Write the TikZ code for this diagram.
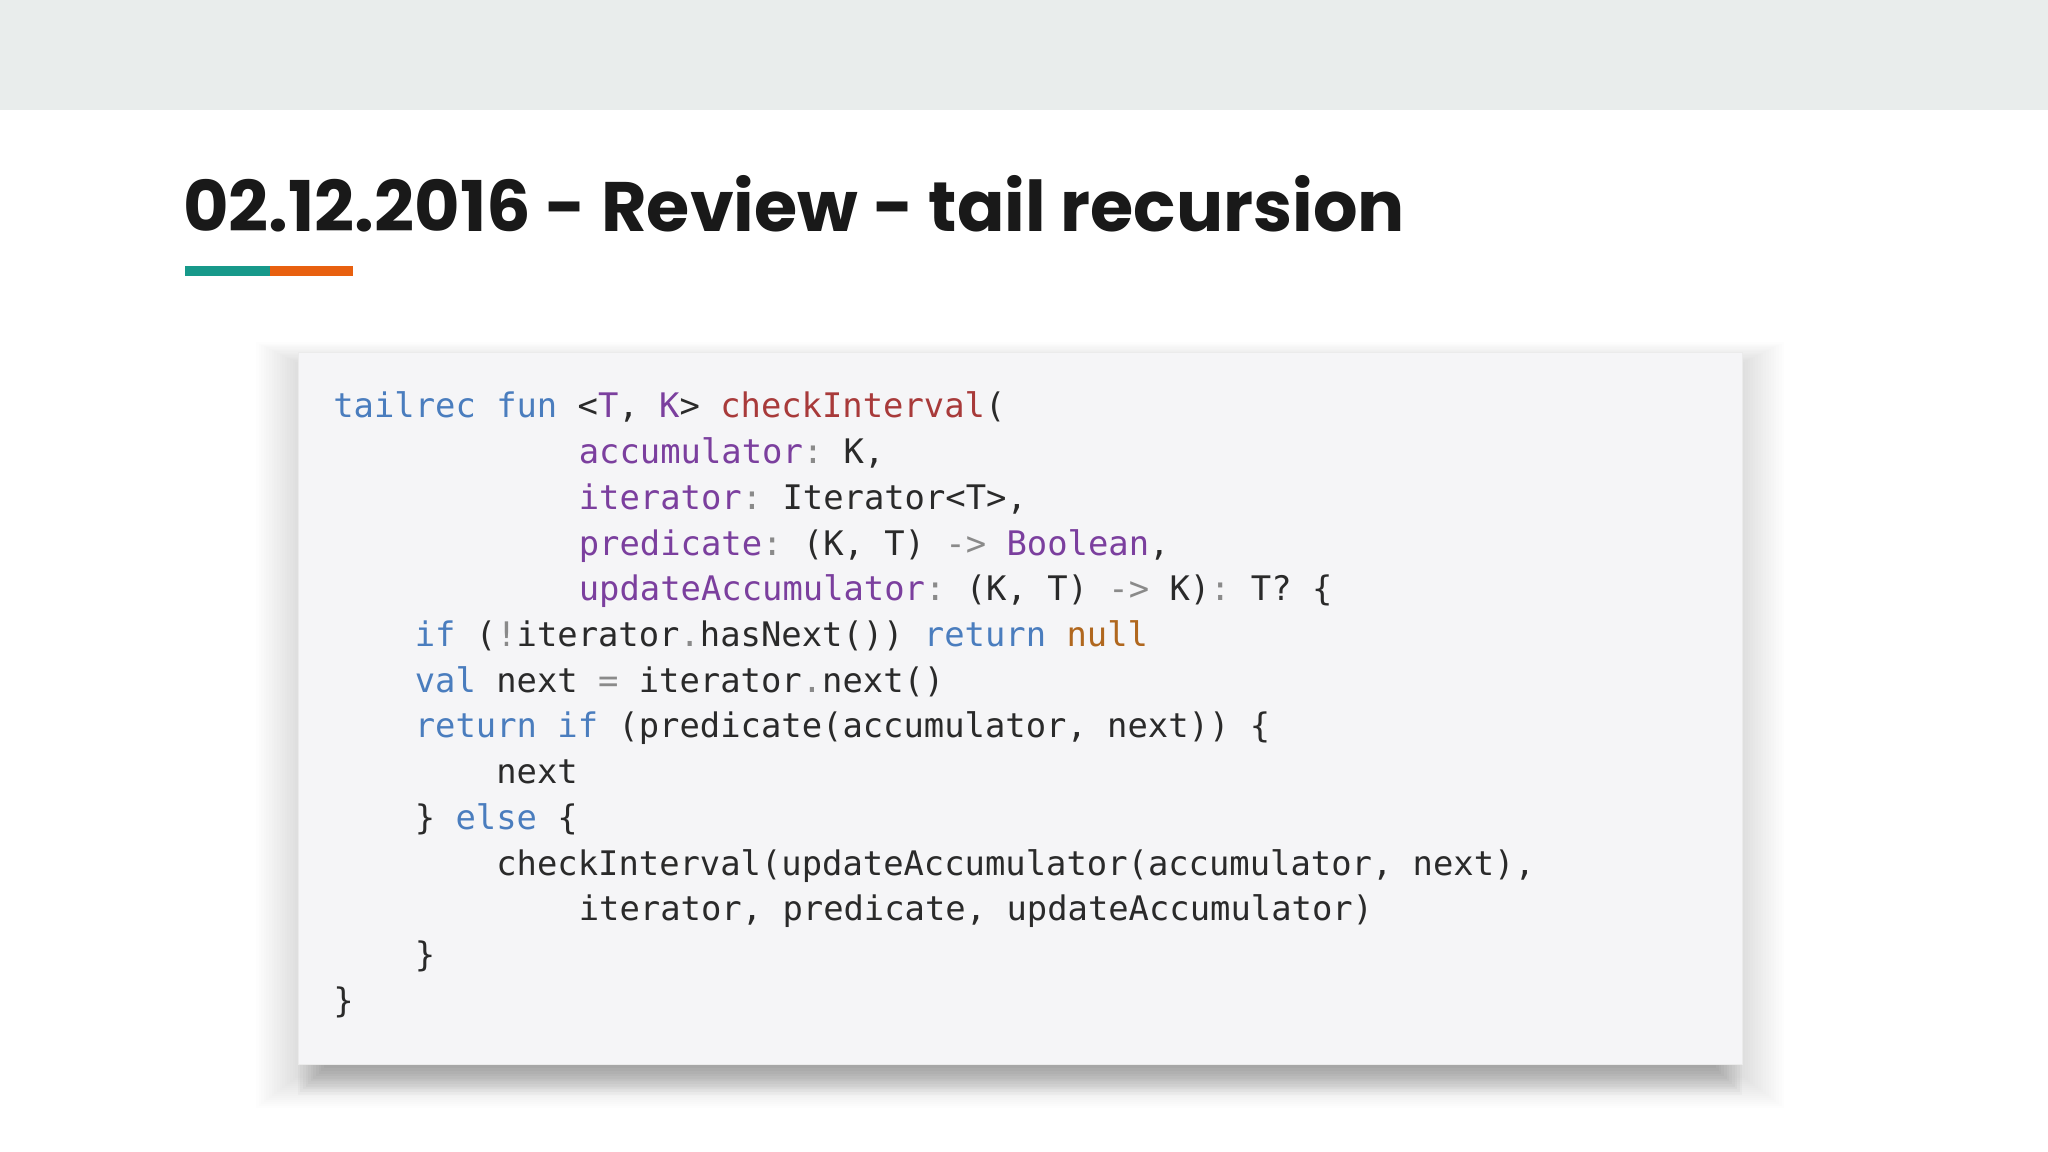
\documentclass[tikz,border=0pt]{standalone}
\usepackage{fontspec}
\setmainfont{Poppins}
\newfontfamily\codefont{DejaVu Sans Mono}
\definecolor{band}{HTML}{E9EDEC}
\definecolor{boxbg}{HTML}{F5F5F7}
\definecolor{kw}{HTML}{4A7DBE}
\definecolor{pu}{HTML}{7B3F9E}
\definecolor{fn}{HTML}{A83A3A}
\definecolor{nl}{HTML}{B0671E}
\definecolor{gy}{HTML}{8A8A8A}
\definecolor{tx}{HTML}{2A2A2A}
\definecolor{teal}{HTML}{17998A}
\definecolor{orng}{HTML}{E8600F}
\newcommand{\K}[1]{\textcolor{kw}{#1}}
\newcommand{\Pu}[1]{\textcolor{pu}{#1}}
\newcommand{\F}[1]{\textcolor{fn}{#1}}
\newcommand{\N}[1]{\textcolor{nl}{#1}}
\newcommand{\G}[1]{\textcolor{gy}{#1}}
\newcommand{\sP}{\hspace{0.602em}}
\begin{document}
\begin{tikzpicture}[x=1pt,y=-1pt,
  codeline/.style={anchor=base west,inner sep=0pt,font=\codefont\fontsize{25.9}{30}\selectfont,text=tx}]
\useasboundingbox (0,0) rectangle (1568,882);
\fill[white] (0,0) rectangle (1568,882);
\fill[band] (0,0) rectangle (1568,84);
\node[anchor=base west,inner sep=0pt,font=\bfseries\fontsize{53.6}{60}\selectfont,text=black!90] (title) at (140,177) {02.12.2016 - Review - tail recursion};
\fill[teal] (142,204) rectangle (207,211);
\fill[orng] (207,204) rectangle (270,211);
% shadow
\foreach \i in {0,...,15}{
  \fill[black,opacity=0.008] (196+2*\i,262+\i) rectangle (1366-2*\i,848-1.5*\i);
}
\foreach \i in {0,...,10}{
  \fill[black,opacity=0.025] (228+2*\i,330+3*\i) rectangle (1334-2*\i,838-2*\i);
}
\fill[boxbg,draw=black!8] (228,270) rectangle (1334,815);
\node[codeline] (l1) at (255,320) {\K{tailrec}\sP\K{fun}\sP<\Pu{T}, \Pu{K}>\sP\F{checkInterval}(};
\node[codeline] (l2) at (443,355) {\Pu{accumulator}\G{:}\sP K,};
\node[codeline] (l3) at (443,390) {\Pu{iterator}\G{:}\sP Iterator<T>,};
\node[codeline] (l4) at (443,425) {\Pu{predicate}\G{:}\sP(K,\sP T)\sP\G{->}\sP\Pu{Boolean},};
\node[codeline] (l5) at (443,460) {\Pu{updateAccumulator}\G{:}\sP(K,\sP T)\sP\G{->}\sP K)\G{:}\sP T?\sP\{};
\node[codeline] (l6) at (317.4,495) {\K{if}\sP(\G{!}iterator\G{.}hasNext())\sP\K{return}\sP\N{null}};
\node[codeline] (l7) at (317.4,530) {\K{val}\sP next\sP\G{=}\sP iterator\G{.}next()};
\node[codeline] (l8) at (317.4,565) {\K{return}\sP\K{if}\sP(predicate(accumulator,\sP next))\sP\{};
\node[codeline] (l9) at (379.8,600) {next};
\node[codeline] (l10) at (317.4,635) {\}\sP\K{else}\sP\{};
\node[codeline] (l11) at (379.8,670) {checkInterval(updateAccumulator(accumulator,\sP next),};
\node[codeline] (l12) at (443,705) {iterator,\sP predicate,\sP updateAccumulator)};
\node[codeline] (l13) at (317.4,740) {\}};
\node[codeline] (l14) at (255,775) {\}};
\end{tikzpicture}
\end{document}
